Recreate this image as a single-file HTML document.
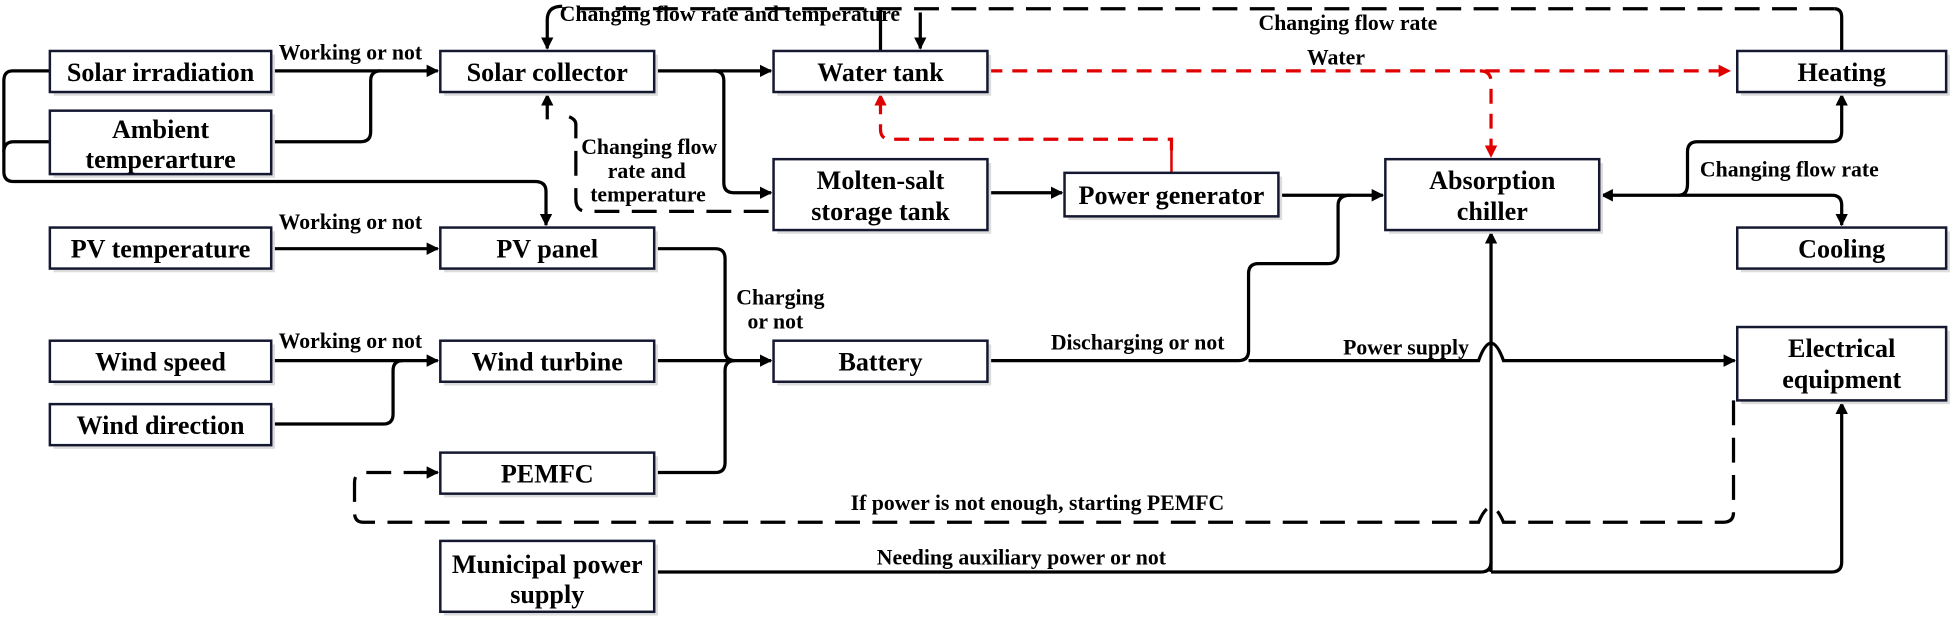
<!DOCTYPE html>
<html><head><meta charset="utf-8"><style>
html,body{margin:0;padding:0;background:#fff;}
svg{display:block;}
text{font-family:"Liberation Serif",serif;font-weight:bold;fill:#000;}
.b{font-size:21px;}
.l{font-size:17.5px;}
.bx{fill:#fff;stroke:#141830;stroke-width:2;}
.sh{fill:#dcdcdc;}
.k{fill:none;stroke:#000;stroke-width:2.6;}
.kd{fill:none;stroke:#000;stroke-width:2.6;stroke-dasharray:20 10;}
.r{fill:none;stroke:#e00000;stroke-width:2.6;stroke-dasharray:12 8;}
</style></head><body>
<svg width="1950" height="618" viewBox="0 0 1568 497" xmlns="http://www.w3.org/2000/svg">
<defs>
<marker id="a" markerWidth="10" markerHeight="10" refX="9" refY="5" orient="auto" markerUnits="userSpaceOnUse"><path d="M0,0 L10,5 L0,10 z" fill="#000"/></marker>
<marker id="ar" markerWidth="10" markerHeight="10" refX="9" refY="5" orient="auto" markerUnits="userSpaceOnUse"><path d="M0,0 L10,5 L0,10 z" fill="#e00000"/></marker>
</defs>

<!-- connectors -->
<path class="k" d="M218,57 H352" marker-end="url(#a)"/>
<path class="k" d="M218,114 H290 Q298,114 298,106 V65 Q298,57 306,57"/>
<path class="k" d="M40,57 H10 Q3,57 3,65 V138 Q3,146 11,146 H430 Q439,146 439,154 V181" marker-end="url(#a)"/>
<path class="k" d="M40,114 H11 Q3,114 3,122"/>
<path class="k" d="M526,57 H620" marker-end="url(#a)"/>
<path class="k" d="M574,57 Q582,57 582,65 V147 Q582,155 590,155 H620" marker-end="url(#a)"/>
<path class="kd" d="M618,170 H472 Q463,170 463,160 V100 Q463,94 450,92" />
<path class="k" d="M440,96 V76" marker-end="url(#a)"/>
<!-- top loop -->
<path class="kd" d="M1475,7 H452"/>
<path class="k" d="M1475,7 Q1481,7 1481,14 V41"/>
<path class="k" d="M452,5 Q440,5 440,16 V39" marker-end="url(#a)"/>
<path class="k" d="M708,41 V8"/>
<path class="k" d="M740,10 V39" marker-end="url(#a)"/>
<!-- red -->
<path class="r" d="M794,57 H1391" marker-end="url(#ar)"/>
<path class="r" d="M1190,57 Q1199,57 1199,66 V126" marker-end="url(#ar)"/>
<path class="r" d="M942,121 V112 H716 Q708,112 708,104 V76" marker-end="url(#ar)"/>
<path d="M942,121 V139" stroke="#e00000" stroke-width="2" fill="none"/>
<!-- middle -->
<path class="k" d="M794,155 H854" marker-end="url(#a)"/>
<path class="k" d="M1028,157 H1112" marker-end="url(#a)"/>
<path class="k" d="M794,290 H996 Q1004,290 1004,282 V220 Q1004,212 1012,212 H1068 Q1076,212 1076,204 V165 Q1076,157 1086,157"/>
<path class="k" d="M1004,290 H1189 Q1194,276 1199,276 Q1204,276 1209,290 H1395" marker-end="url(#a)"/>
<path class="k" d="M1199,460 V187" marker-end="url(#a)"/>
<path class="k" d="M526,460 H1191 Q1199,460 1199,452"/>
<path class="k" d="M1199,460 H1473 Q1481,460 1481,452 V324" marker-end="url(#a)"/>
<path class="k" d="M1357,157 H1288" marker-end="url(#a)"/>
<path class="k" d="M1350,157 Q1357,157 1357,148 V122 Q1357,114 1365,114 H1473 Q1481,114 1481,106 V76" marker-end="url(#a)"/>
<path class="k" d="M1357,157 H1473 Q1481,157 1481,165 V181" marker-end="url(#a)"/>
<path class="k" d="M526,200 H575 Q583,200 583,208 V282 Q583,290 591,290 H620" marker-end="url(#a)"/>
<path class="k" d="M526,290 H590"/>
<path class="k" d="M526,380 H575 Q583,380 583,372 V298 Q583,290 591,290"/>
<path class="k" d="M218,200 H352" marker-end="url(#a)"/>
<path class="k" d="M218,290 H352" marker-end="url(#a)"/>
<path class="k" d="M218,341 H308 Q316,341 316,333 V298 Q316,290 324,290"/>
<!-- PEMFC dashed -->
<path class="kd" d="M1394,322 V412 Q1394,420 1386,420 H1209 Q1204,408 1199,408 Q1194,408 1189,420 H292 Q285,420 285,412 V388 Q285,380 293,380 H340"/>
<path class="k" d="M338,380 H352" marker-end="url(#a)"/>

<!-- boxes -->
<g>
<rect class="sh" x="43" y="44" width="178" height="33"/><rect class="bx" x="40" y="41" width="178" height="33"/>
<rect class="sh" x="43" y="92" width="178" height="51"/><rect class="bx" x="40" y="89" width="178" height="51"/>
<rect class="sh" x="357" y="44" width="172" height="33"/><rect class="bx" x="354" y="41" width="172" height="33"/>
<rect class="sh" x="625" y="44" width="172" height="33"/><rect class="bx" x="622" y="41" width="172" height="33"/>
<rect class="sh" x="625" y="131" width="172" height="57"/><rect class="bx" x="622" y="128" width="172" height="57"/>
<rect class="sh" x="859" y="142" width="172" height="35"/><rect class="bx" x="856" y="139" width="172" height="35"/>
<rect class="sh" x="1117" y="131" width="172" height="57"/><rect class="bx" x="1114" y="128" width="172" height="57"/>
<rect class="sh" x="1400" y="44" width="168" height="33"/><rect class="bx" x="1397" y="41" width="168" height="33"/>
<rect class="sh" x="1400" y="186" width="168" height="33"/><rect class="bx" x="1397" y="183" width="168" height="33"/>
<rect class="sh" x="43" y="186" width="178" height="33"/><rect class="bx" x="40" y="183" width="178" height="33"/>
<rect class="sh" x="357" y="186" width="172" height="33"/><rect class="bx" x="354" y="183" width="172" height="33"/>
<rect class="sh" x="43" y="277" width="178" height="33"/><rect class="bx" x="40" y="274" width="178" height="33"/>
<rect class="sh" x="43" y="328" width="178" height="33"/><rect class="bx" x="40" y="325" width="178" height="33"/>
<rect class="sh" x="357" y="277" width="172" height="33"/><rect class="bx" x="354" y="274" width="172" height="33"/>
<rect class="sh" x="625" y="277" width="172" height="33"/><rect class="bx" x="622" y="274" width="172" height="33"/>
<rect class="sh" x="1400" y="266" width="168" height="59"/><rect class="bx" x="1397" y="263" width="168" height="59"/>
<rect class="sh" x="357" y="367" width="172" height="33"/><rect class="bx" x="354" y="364" width="172" height="33"/>
<rect class="sh" x="357" y="438" width="172" height="57"/><rect class="bx" x="354" y="435" width="172" height="57"/>
</g>

<g class="b" text-anchor="middle">
<text x="129" y="65">Solar irradiation</text>
<text x="129" y="111">Ambient</text><text x="129" y="135">temperarture</text>
<text x="440" y="65">Solar collector</text>
<text x="708" y="65">Water tank</text>
<text x="708" y="152">Molten-salt</text><text x="708" y="177">storage tank</text>
<text x="942" y="164">Power generator</text>
<text x="1200" y="152">Absorption</text><text x="1200" y="177">chiller</text>
<text x="1481" y="65">Heating</text>
<text x="1481" y="207">Cooling</text>
<text x="129" y="207">PV temperature</text>
<text x="440" y="207">PV panel</text>
<text x="129" y="298">Wind speed</text>
<text x="129" y="349">Wind direction</text>
<text x="440" y="298">Wind turbine</text>
<text x="708" y="298">Battery</text>
<text x="1481" y="287">Electrical</text><text x="1481" y="312">equipment</text>
<text x="440" y="388">PEMFC</text>
<text x="440" y="461">Municipal power</text><text x="440" y="485">supply</text>
</g>

<g class="l">
<text x="224" y="48">Working or not</text>
<text x="224" y="184">Working or not</text>
<text x="224" y="280">Working or not</text>
<text x="450" y="17">Changing flow rate and temperature</text>
<text x="1012" y="24">Changing flow rate</text>
<text x="1051" y="52">Water</text>
<text x="1367" y="142">Changing flow rate</text>
<text x="522" y="124" text-anchor="middle">Changing flow</text>
<text x="520" y="143" text-anchor="middle">rate and</text>
<text x="521" y="162" text-anchor="middle">temperature</text>
<text x="592" y="245">Charging</text>
<text x="601" y="264">or not</text>
<text x="845" y="281">Discharging or not</text>
<text x="1080" y="285">Power supply</text>
<text x="684" y="410">If power is not enough, starting PEMFC</text>
<text x="705" y="454">Needing auxiliary power or not</text>
</g>
</svg>
</body></html>
